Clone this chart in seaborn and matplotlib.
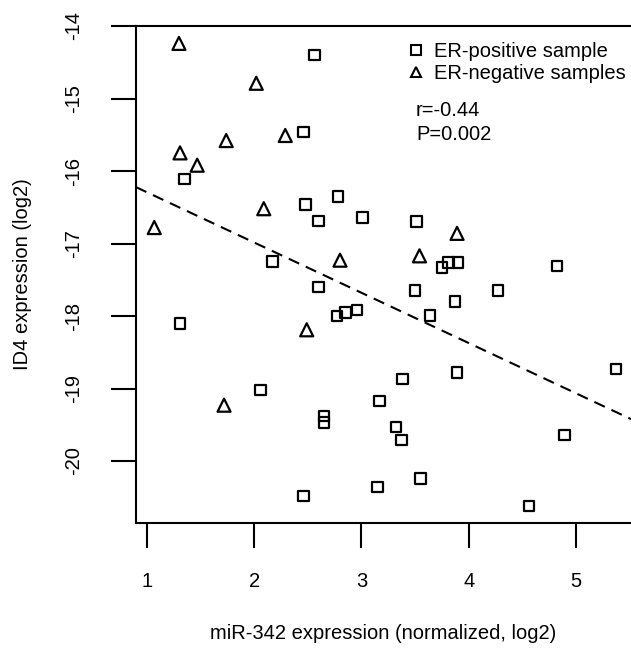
import numpy as np
import pandas as pd
import seaborn as sns
import matplotlib
matplotlib.use("Agg")
import matplotlib.pyplot as plt
from matplotlib.lines import Line2D

# miR-342 (x) and ID4 (y) expression, ER-negative samples
neg_x = [1.30, 2.02, 2.29, 1.74, 1.31, 1.47, 1.07, 2.09, 2.80, 3.54, 3.89, 2.49, 1.72]
neg_y = [-14.24, -14.79, -15.51, -15.58, -15.75, -15.92, -16.78, -16.52, -17.23,
         -17.17, -16.86, -18.19, -19.23]

# ER-positive samples
pos_x = [1.35, 2.46, 2.56, 2.17, 1.31, 2.48, 2.78, 2.60, 3.01, 3.51, 3.75, 3.81,
         3.90, 2.60, 3.50, 3.87, 3.64, 2.77, 2.85, 2.96, 4.82, 4.27, 2.06, 2.46,
         3.38, 3.89, 3.17, 2.65, 2.65, 3.32, 3.37, 3.15, 3.55, 5.37, 4.89, 4.56]
pos_y = [-16.11, -15.46, -14.40, -17.25, -18.10, -16.46, -16.35, -16.69, -16.64,
         -16.70, -17.33, -17.26, -17.26, -17.60, -17.65, -17.80, -17.99, -18.00,
         -17.95, -17.92, -17.31, -17.65, -19.02, -20.48, -18.87, -18.78, -19.17,
         -19.38, -19.47, -19.53, -19.71, -20.36, -20.24, -18.73, -19.64, -20.62]

groups = ["ER-positive sample", "ER-negative samples"]
x_ticks = [1, 2, 3, 4, 5]
y_ticks = [-14, -15, -16, -17, -18, -19, -20]
stats_text = ["r=-0.44", "P=0.002"]

df = pd.DataFrame({
    "mir342": pos_x + neg_x,
    "id4": pos_y + neg_y,
    "group": [groups[0]] * len(pos_x) + [groups[1]] * len(neg_x),
})

sns.set_theme(style="white")
plt.rcParams["font.family"] = ["Liberation Sans", "DejaVu Sans"]
plt.rcParams["text.color"] = "black"

W, H = 631, 651
fig = plt.figure(figsize=(W / 100, H / 100), dpi=100)
ax = fig.add_axes([136 / W, (H - 523) / H, (W - 136) / W, (523 - 26) / H])

xmin, xmax = 0.9, 5.51
ymin, ymax = -20.855, -14.0
ax.set_xlim(xmin, xmax)
ax.set_ylim(ymin, ymax)

sns.scatterplot(data=df, x="mir342", y="id4", style="group",
                markers={groups[0]: "s", groups[1]: "^"},
                size="group", sizes={groups[0]: 58, groups[1]: 88},
                facecolor="none", edgecolor="black", linewidth=1.6,
                legend=False, ax=ax)

# least-squares line over all samples
sns.regplot(data=df, x="mir342", y="id4", scatter=False, ci=None,
            truncate=False, color="black",
            line_kws={"linestyle": (0, (5.5, 3.5)), "linewidth": 1.5}, ax=ax)
ax.set_xlim(xmin, xmax)
ax.set_ylim(ymin, ymax)

ax.spines["right"].set_visible(False)
for side in ["left", "bottom", "top"]:
    ax.spines[side].set_color("black")
    ax.spines[side].set_linewidth(1.5)

ax.set_xticks(x_ticks)
ax.set_yticks(y_ticks)
ax.set_xticklabels([str(v) for v in x_ticks])
ax.set_yticklabels([str(v) for v in y_ticks], rotation=90, va="center")
ax.tick_params(axis="both", direction="out", length=18, width=1.5,
               color="black", labelsize=14.5, labelcolor="black")
ax.tick_params(axis="x", pad=17, bottom=True)
ax.tick_params(axis="y", pad=20, left=True)

ax.set_xlabel("miR-342 expression (normalized, log2)", fontsize=14.5,
              color="black", labelpad=24)
ax.set_ylabel("ID4 expression (log2)", fontsize=14.5, color="black",
              labelpad=23)

handles = [
    Line2D([], [], marker="s", linestyle="none", markersize=6.5,
           markerfacecolor="none", markeredgecolor="black", markeredgewidth=1.5),
    Line2D([], [], marker="^", linestyle="none", markersize=7.5,
           markerfacecolor="none", markeredgecolor="black", markeredgewidth=1.5),
]
ax.legend(handles, groups, loc="upper left",
          bbox_to_anchor=(408 / W, (H - 42) / H),
          bbox_transform=fig.transFigure, frameon=False, fontsize=14.5,
          handlelength=0.8, handletextpad=0.5, labelspacing=0.15,
          borderpad=0, borderaxespad=0, labelcolor="black")

fig.text(416 / W, (H - 110) / H, stats_text[0], fontsize=14.5, va="center",
         ha="left", color="black")
fig.text(416 / W, (H - 134) / H, stats_text[1], fontsize=14.5, va="center",
         ha="left", color="black")

fig.savefig("out.png", dpi=100)
